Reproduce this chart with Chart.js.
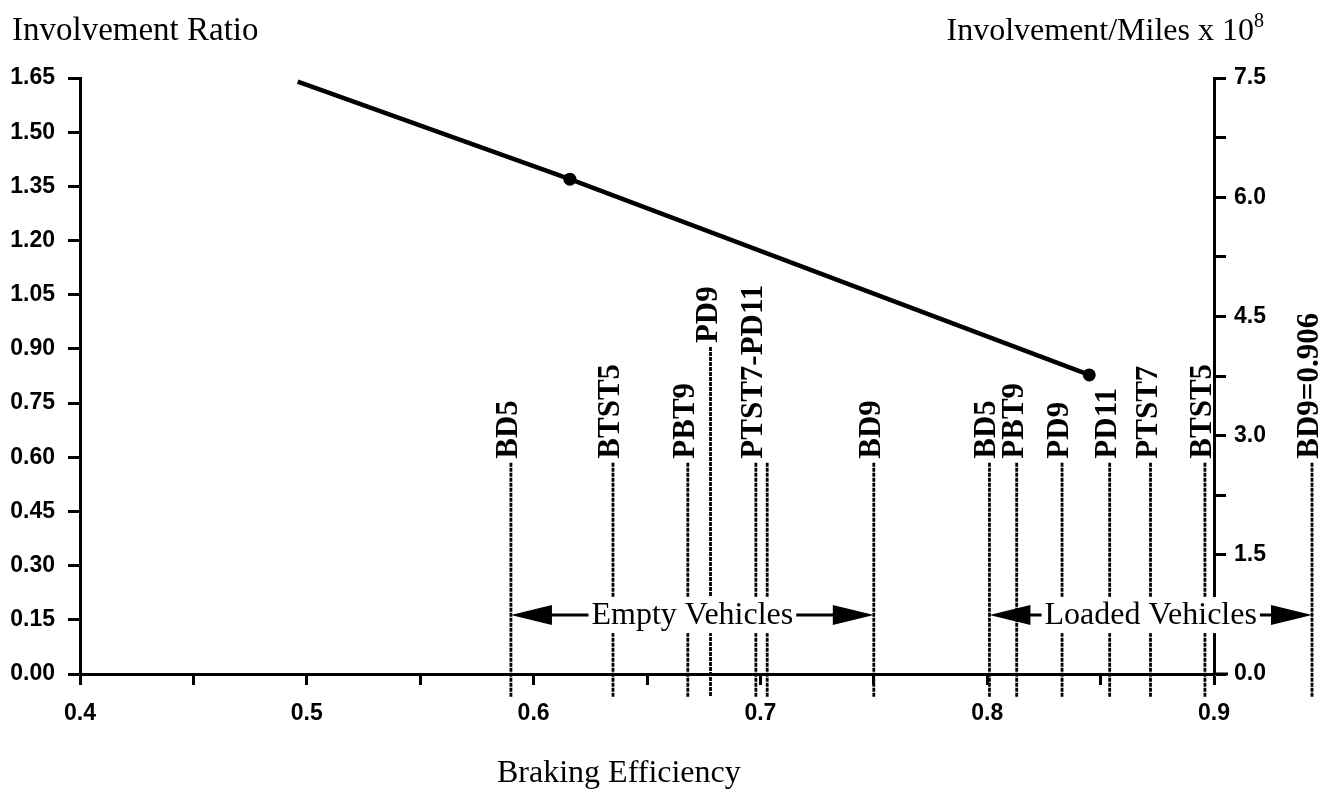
<!DOCTYPE html>
<html>
<head>
<meta charset="utf-8">
<script src="https://cdn.jsdelivr.net/npm/chart.js@4/dist/chart.umd.min.js"></script>
<style>
  html, body { margin: 0; padding: 0; background: #fff; }
  #wrap { width: 1329px; height: 794px; position: relative; }
</style>
</head>
<body>
<div id="wrap"><canvas id="chart" width="1329" height="794"></canvas></div>
<script>
// Fitted involvement ratio against braking efficiency
const efficiency       = [0.496, 0.616, 0.845];
const involvementRatio = [1.64, 1.37, 0.828];
const pointMarkers     = [0, 6.5, 6.5];

// Braking efficiency of each vehicle configuration
const emptyNames   = ['BD5', 'BTST5', 'PBT9', 'PD9', 'PTST7', 'PD11', 'BD9'];
const emptyValues  = [0.590, 0.635, 0.668, 0.678, 0.698, 0.703, 0.750];
const emptyLabels  = ['BD5', 'BTST5', 'PBT9', 'PD9', 'PTST7-PD11', '', 'BD9'];

const loadedNames  = ['BD5', 'PBT9', 'PD9', 'PD11', 'PTST7', 'BTST5', 'BD9'];
const loadedValues = [0.801, 0.813, 0.833, 0.854, 0.872, 0.896, 0.906];
const loadedLabels = ['BD5', 'PBT9', 'PD9', 'PD11', 'PTST7', 'BTST5', 'BD9=0.906'];

// Axis ticks
const xTickValues     = [0.4, 0.45, 0.5, 0.55, 0.6, 0.65, 0.7, 0.75, 0.8, 0.85, 0.9];
const xTickLabels     = ['0.4', '', '0.5', '', '0.6', '', '0.7', '', '0.8', '', '0.9'];
const ratioTickValues = [0, 0.15, 0.30, 0.45, 0.60, 0.75, 0.90, 1.05, 1.20, 1.35, 1.50, 1.65];
const ratioTickLabels = ['0.00', '0.15', '0.30', '0.45', '0.60', '0.75', '0.90', '1.05', '1.20', '1.35', '1.50', '1.65'];
const rateTickValues  = [0, 0.75, 1.5, 2.25, 3.0, 3.75, 4.5, 5.25, 6.0, 6.75, 7.5];
const rateTickLabels  = ['0.0', '', '1.5', '', '3.0', '', '4.5', '', '6.0', '', '7.5'];

const SANS  = "'Liberation Sans', Arial, sans-serif";
const SERIF = "'Liberation Serif', 'Times New Roman', serif";
const INK = '#000';

const tickFont = { family: SANS, size: 23, weight: 'bold' };

function setTicks(values) {
  return scale => { scale.ticks = values.map(v => ({ value: v })); };
}

// Vertical markers, rotated names, range arrows and the free-standing titles
const annotations = {
  id: 'annotations',
  afterDraw(chart) {
    const { ctx, chartArea } = chart;
    const xs = chart.scales.x;
    const yr = chart.scales.yRatio;
    const base = yr.getPixelForValue(0);
    const tail = base + 23;
    const lineTop = yr.getPixelForValue(0.585);
    const raisedTop = yr.getPixelForValue(0.905);
    const arrowY = yr.getPixelForValue(0.163);
    // values past the end of the efficiency axis are pinned outside the right-hand scale
    const offScale = v => v > xs.max ? chartArea.right + 98 : xs.getPixelForValue(v);

    // the efficiency axis runs on a little past the right-hand scale
    ctx.save();
    ctx.strokeStyle = INK;
    ctx.lineWidth = 3;
    ctx.beginPath();
    ctx.moveTo(chartArea.right, base);
    ctx.lineTo(chartArea.right + 14, base);
    ctx.stroke();
    ctx.restore();

    function drawGroup(names, values, labels) {
      const xsPx = values.map(offScale);
      const topOf = i => (names[i] === 'PD9' && labels === emptyLabels ? raisedTop : lineTop);
      ctx.save();
      ctx.strokeStyle = INK;
      ctx.lineWidth = 2.8;
      ctx.setLineDash([4, 1]);
      xsPx.forEach((px, i) => {
        ctx.beginPath();
        ctx.moveTo(px, topOf(i));
        ctx.lineTo(px, tail);
        ctx.stroke();
      });
      ctx.restore();

      ctx.save();
      ctx.fillStyle = INK;
      ctx.font = `bold 31px ${SERIF}`;
      ctx.textAlign = 'left';
      ctx.textBaseline = 'middle';
      labels.forEach((txt, i) => {
        if (!txt) return;
        ctx.save();
        ctx.translate(xsPx[i] - 2, topOf(i) - 4);
        ctx.rotate(-Math.PI / 2);
        ctx.fillText(txt, 0, 0);
        ctx.restore();
      });
      ctx.restore();
      return xsPx;
    }

    function drawRange(x0, x1, text) {
      const head = 41, half = 10;
      ctx.save();
      ctx.strokeStyle = INK;
      ctx.fillStyle = INK;
      ctx.lineWidth = 3;
      ctx.setLineDash([]);
      ctx.beginPath();
      ctx.moveTo(x0 + head - 2, arrowY);
      ctx.lineTo(x1 - head + 2, arrowY);
      ctx.stroke();
      ctx.beginPath();
      ctx.moveTo(x0, arrowY);
      ctx.lineTo(x0 + head, arrowY - half);
      ctx.lineTo(x0 + head, arrowY + half);
      ctx.closePath();
      ctx.fill();
      ctx.beginPath();
      ctx.moveTo(x1, arrowY);
      ctx.lineTo(x1 - head, arrowY - half);
      ctx.lineTo(x1 - head, arrowY + half);
      ctx.closePath();
      ctx.fill();

      ctx.font = `32px ${SERIF}`;
      const w = ctx.measureText(text).width;
      const cx = (x0 + x1) / 2;
      ctx.fillStyle = '#fff';
      ctx.fillRect(cx - w / 2 - 3, arrowY - 18, w + 6, 36);
      ctx.fillStyle = INK;
      ctx.textAlign = 'center';
      ctx.textBaseline = 'middle';
      ctx.fillText(text, cx, arrowY);
      ctx.restore();
    }

    const emptyPx = drawGroup(emptyNames, emptyValues, emptyLabels);
    const loadedPx = drawGroup(loadedNames, loadedValues, loadedLabels);
    drawRange(emptyPx[0], emptyPx[emptyPx.length - 1], 'Empty Vehicles');
    drawRange(loadedPx[0], loadedPx[loadedPx.length - 1], 'Loaded Vehicles');

    // axis titles
    ctx.save();
    ctx.fillStyle = INK;
    ctx.font = `33px ${SERIF}`;
    ctx.textBaseline = 'alphabetic';
    ctx.textAlign = 'left';
    ctx.fillText('Involvement Ratio', 12, 40);
    ctx.font = `32px ${SERIF}`;
    ctx.fillText('Braking Efficiency', 497, 782);
    ctx.font = `20px ${SERIF}`;
    const supW = ctx.measureText('8').width;
    ctx.fillText('8', 1264 - supW, 27);
    ctx.font = `32px ${SERIF}`;
    ctx.textAlign = 'right';
    ctx.fillText('Involvement/Miles x 10', 1264 - supW, 40);
    ctx.restore();
  }
};

new Chart(document.getElementById('chart'), {
  type: 'scatter',
  data: {
    datasets: [{
      label: 'Involvement Ratio',
      data: efficiency.map((x, i) => ({ x, y: involvementRatio[i] })),
      yAxisID: 'yRatio',
      showLine: true,
      borderColor: INK,
      borderWidth: 4.5,
      pointRadius: pointMarkers,
      pointBackgroundColor: INK,
      pointBorderColor: INK,
      pointBorderWidth: 0,
      clip: false
    }]
  },
  options: {
    responsive: false,
    animation: false,
    devicePixelRatio: 1,
    layout: { padding: { top: 78, left: 0, right: 0, bottom: 0 } },
    plugins: { legend: { display: false }, tooltip: { enabled: false } },
    scales: {
      x: {
        type: 'linear', position: 'bottom', min: 0.4, max: 0.9,
        afterBuildTicks: setTicks(xTickValues),
        afterFit: s => { s.height = 120; },
        ticks: { callback: (v, i) => xTickLabels[i], autoSkip: false, maxRotation: 0, padding: 15, color: INK, font: tickFont },
        grid: { drawOnChartArea: false, drawTicks: true, tickLength: 11, tickWidth: 3, tickColor: INK },
        border: { display: true, width: 3, color: INK }
      },
      yRatio: {
        type: 'linear', position: 'left', min: 0, max: 1.65,
        afterBuildTicks: setTicks(ratioTickValues),
        afterFit: s => { s.width = 80; },
        ticks: { callback: (v, i) => ratioTickLabels[i], autoSkip: false, padding: 13, color: INK, font: tickFont },
        grid: { drawOnChartArea: false, drawTicks: true, tickLength: 12, tickWidth: 3, tickColor: INK },
        border: { display: true, width: 3, color: INK }
      },
      yRate: {
        type: 'linear', position: 'right', min: 0, max: 7.5,
        afterBuildTicks: setTicks(rateTickValues),
        afterFit: s => { s.width = 115; },
        ticks: { callback: (v, i) => rateTickLabels[i], autoSkip: false, padding: 8, color: INK, font: tickFont },
        grid: { drawOnChartArea: false, drawTicks: true, tickLength: 12, tickWidth: 3, tickColor: INK },
        border: { display: true, width: 3, color: INK }
      }
    }
  },
  plugins: [annotations]
});
</script>
</body>
</html>
